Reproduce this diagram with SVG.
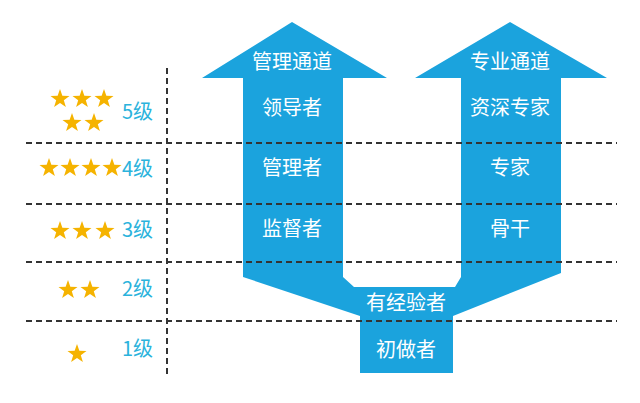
<svg xmlns="http://www.w3.org/2000/svg" xmlns:xlink="http://www.w3.org/1999/xlink" width="640" height="403" viewBox="0 0 640 403">
<style>
.b{fill:#1ba3dd}
.w{fill:#fff;font-family:"Noto Sans CJK SC","Noto Sans",sans-serif;font-size:20px;text-anchor:middle}
.l{fill:#2bb3dc;font-family:"Noto Sans CJK SC","Noto Sans",sans-serif;font-size:20px}
.d{stroke:#333;stroke-width:2;stroke-dasharray:6 4;fill:none}
.s{fill:#f5b300}
</style>
<defs><path id="st" d="M0,-10 L2.35,-3.2 9.5,-3.1 3.8,1.2 5.9,8.1 0,4 -5.9,8.1 -3.8,1.2 -9.5,-3.1 -2.35,-3.2Z"/></defs>
<rect width="640" height="403" fill="#fff"/>
<g id="shape"><path class="b" d="M292,22 L387,78 L343,78 L343,277 L354,287 L455,287 L461,277 L461,78 L415,78 L510,22 L607,78 L561,78 L561,273 L453,316 L453,373 L360,373 L360,316 L243,277 L243,78 L202,78 Z"/></g>
<g id="connectors">
<line class="d" x1="26" y1="143" x2="617" y2="143"/>
<line class="d" x1="26" y1="204" x2="617" y2="204"/>
<line class="d" x1="26" y1="262" x2="617" y2="262"/>
<line class="d" x1="26" y1="321" x2="617" y2="321"/>
<line class="d" x1="167" y1="68" x2="167" y2="377"/>
</g>
<g id="n-mgmt"><text class="w" x="292" y="69">管理通道</text><text class="w" x="292" y="115">领导者</text><text class="w" x="292" y="175">管理者</text><text class="w" x="292" y="236">监督者</text></g>
<g id="n-pro"><text class="w" x="510" y="69">专业通道</text><text class="w" x="510" y="115">资深专家</text><text class="w" x="510" y="175">专家</text><text class="w" x="510" y="236">骨干</text></g>
<g id="n-base"><text class="w" x="406" y="310">有经验者</text><text class="w" x="406" y="357">初做者</text></g>
<g id="levels">
<text class="l" x="122" y="119">5级</text><text class="l" x="122" y="176">4级</text><text class="l" x="122" y="237">3级</text><text class="l" x="122" y="296">2级</text><text class="l" x="122" y="356">1级</text>
<use class="s" href="#st" x="60" y="99"/><use class="s" href="#st" x="82" y="99"/><use class="s" href="#st" x="104" y="99"/>
<use class="s" href="#st" x="72" y="123"/><use class="s" href="#st" x="94" y="123"/>
<use class="s" href="#st" x="49" y="168"/><use class="s" href="#st" x="70" y="168"/><use class="s" href="#st" x="91" y="168"/><use class="s" href="#st" x="112" y="168"/>
<use class="s" href="#st" x="60" y="231"/><use class="s" href="#st" x="82" y="231"/><use class="s" href="#st" x="105" y="231"/>
<use class="s" href="#st" x="68" y="290"/><use class="s" href="#st" x="90" y="290"/>
<use class="s" href="#st" x="77" y="354"/>
</g>
</svg>
